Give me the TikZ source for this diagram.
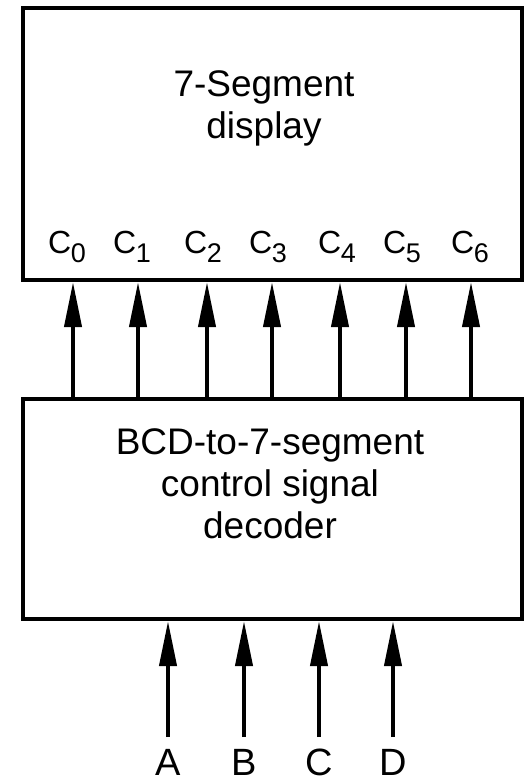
\documentclass[tikz,border=0pt]{standalone}
\usepackage{fontspec}
\setmainfont{Liberation Sans}
\usetikzlibrary{arrows.meta, positioning}

\newcommand{\sigsub}[1]{C\kern-0.5pt\raisebox{-8.5pt}{\fontsize{27}{27}\selectfont #1}}

\begin{document}
\begin{tikzpicture}[x=1pt, y=-1pt,
  blk/.style={draw=black, line width=4pt, fill=white, inner sep=0pt},
  txt/.style={font=\fontsize{37}{42}\selectfont, align=center, inner sep=0pt},
  outl/.style={font=\fontsize{32}{34}\selectfont, inner sep=0pt, anchor=base},
  inl/.style={font=\fontsize{38}{40}\selectfont, inner sep=0pt, anchor=base},
  sig/.style={-{Triangle[length=45pt, width=17pt]}, line width=4pt, black}]
  \useasboundingbox (0,0) rectangle (532,780);
  \node[blk, minimum width=499pt, minimum height=272pt] (disp) at (272.5,144) {};
  \node[blk, minimum width=499pt, minimum height=220pt] (dec) at (272.5,509) {};
  \node[txt] (dispname) at (264,108) {7-Segment\\display};
  \node[txt] (decname) at (270,484) {BCD-to-7-segment\\control signal\\decoder};
  % outputs to the display
  \foreach \i/\x/\lx in {0/73/67, 1/138/132, 2/207/203, 3/272/268, 4/340/337, 5/406/402, 6/471/470} {
    \node[outl] (c\i) at (\lx,253.5) {\sigsub{\i}};
    \draw[sig] (\x,0 |- dec.north) -- (\x,0 |- disp.south);
  }
  % BCD inputs
  \foreach \n/\x in {A/168, B/244, C/319, D/393} {
    \node[inl] (l\n) at (\x,775) {\n};
    \coordinate (in\n) at (\x,737);
    \draw[sig] (in\n) -- (in\n |- dec.south);
  }
\end{tikzpicture}
\end{document}
